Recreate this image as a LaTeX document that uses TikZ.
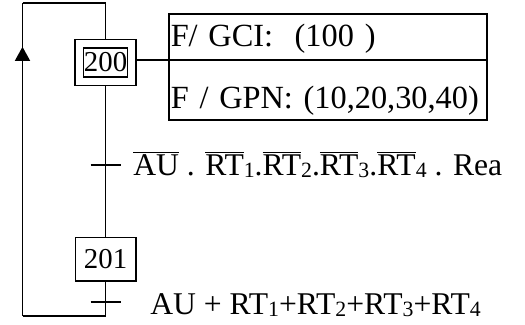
\documentclass[tikz,border=0pt]{standalone}
\usepackage{fontspec}
\setmainfont{Liberation Serif}
\usepackage{tikz}
\usetikzlibrary{positioning}
\usetikzlibrary{calc}
\usetikzlibrary{arrows.meta}
\usetikzlibrary{decorations.markings}

\newcommand{\nonsig}[1]{$\overline{\mbox{#1}}$}
\newcommand{\indice}[1]{\raisebox{-0.09em}{\fontsize{15.5}{18}\selectfont #1}}

\tikzset{
  trait/.style={line width=1.1pt},
  etape/.style={draw, trait, inner sep=0pt, minimum width=1.51cm, minimum height=1.09cm,
    font=\fontsize{20.5}{24}\selectfont},
  initiale/.style={etape, double, double distance=0.17cm, minimum width=1.31cm,
    minimum height=0.94cm, outer sep=0.125cm},
  cellule/.style={draw, trait, anchor=north west, outer sep=0pt, inner xsep=0.05cm, inner ysep=0pt,
    text width=7.86cm, align=left, font=\fontsize{23}{27}\selectfont},
  recept/.style={anchor=base west, inner sep=0pt, font=\fontsize{22.5}{27}\selectfont},
  tick/.style={line width=1.5pt},
  liaison/.style={line width=1.5pt}
}

\begin{document}
\begin{tikzpicture}
    \useasboundingbox (0,0) rectangle (13.125,-8.1);

    % etapes
    \node[initiale] (e200) at (2.64,-1.5625) {200};
    \node[etape] (e201) at (2.64,-6.485) {201};

    % actions de l'etape 200
    \node[cellule, text height=0.83cm, text depth=0.325cm] (a1) at (4.219,-0.344) {F/ GCI:\ \ (100\ )};
    \node[cellule, text height=1.22cm, text depth=0.286cm] (a2) at (a1.south west) {F / GPN: (10,20,30,40)};
    \draw[liaison] (a1.south west) -- (a1.south west -| e200.east);

    % transitions
    \coordinate (t1) at (2.64,-4.125);
    \coordinate (t2) at (2.64,-7.54);
    \coordinate (bl) at (0.5625,-7.9);
    \coordinate (tl) at (0.5625,-0.075);

    \draw[trait] (e200) -- (e201);
    \draw[tick] ([xshift=-0.375cm]t1) -- ([xshift=0.375cm]t1);
    \node[recept] (r1) at (3.325,-4.375)
        {\nonsig{AU} . \nonsig{RT}\indice{1}.\nonsig{RT}\indice{2}.\nonsig{RT}\indice{3}.\nonsig{RT}\indice{4} . Rea};

    \draw[tick] ([xshift=-0.375cm]t2) -- ([xshift=0.375cm]t2);
    \node[recept] (r2) at (3.75,-7.85)
        {AU + RT\indice{1}+RT\indice{2}+RT\indice{3}+RT\indice{4}};

    % retour vers l'etape initiale
    \draw[trait] (e201) -- (e201 |- bl) -- (bl);
    \draw[trait, postaction={decorate}, decoration={markings,
        mark=at position 0.86 with {\arrow{Triangle[width=0.375cm,length=0.35cm]}}}] (bl) -- (tl);
    \draw[trait] (tl) -| (e200.north);
\end{tikzpicture}
\end{document}
